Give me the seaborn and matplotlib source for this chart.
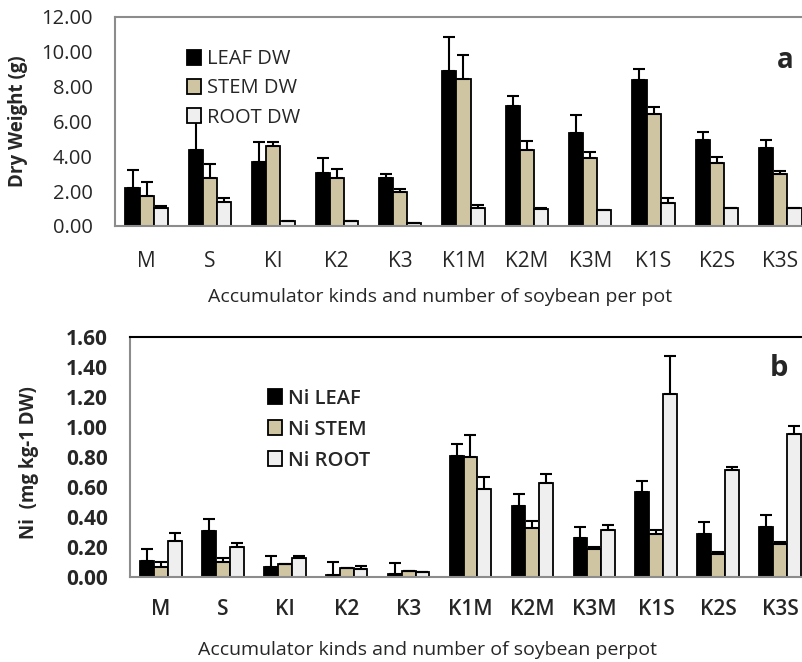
import matplotlib
matplotlib.use("Agg")
import matplotlib.pyplot as plt
from matplotlib.patches import Patch
import seaborn as sns
import pandas as pd
import numpy as np

# ---------------- data ----------------
categories = ["M", "S", "KI", "K2", "K3", "K1M", "K2M", "K3M", "K1S", "K2S", "K3S"]

# panel a: dry weight (g)
leaf_dw = [2.21, 4.35, 3.70, 3.06, 2.75, 8.90, 6.90, 5.35, 8.41, 4.93, 4.50]
leaf_dw_err = [1.03, 1.62, 1.10, 0.84, 0.23, 1.97, 0.57, 1.05, 0.62, 0.45, 0.41]
stem_dw = [1.74, 2.76, 4.60, 2.76, 1.95, 8.45, 4.36, 3.88, 6.45, 3.61, 2.98]
stem_dw_err = [0.81, 0.81, 0.21, 0.54, 0.16, 1.35, 0.54, 0.37, 0.37, 0.38, 0.20]
root_dw = [1.04, 1.40, 0.29, 0.27, 0.18, 1.05, 1.00, 0.92, 1.30, 1.05, 1.05]
root_dw_err = [0.13, 0.19, 0.0, 0.0, 0.0, 0.17, 0.02, 0.02, 0.29, 0.0, 0.0]

# panel b: Ni (mg kg-1 DW)
leaf_ni = [0.110, 0.310, 0.065, 0.016, 0.018, 0.810, 0.472, 0.258, 0.564, 0.288, 0.333]
leaf_ni_err = [0.078, 0.079, 0.077, 0.081, 0.075, 0.074, 0.079, 0.077, 0.079, 0.079, 0.079]
stem_ni = [0.067, 0.099, 0.085, 0.058, 0.038, 0.802, 0.328, 0.184, 0.288, 0.153, 0.220]
stem_ni_err = [0.030, 0.025, 0.0, 0.003, 0.0, 0.144, 0.045, 0.018, 0.027, 0.016, 0.016]
root_ni = [0.243, 0.200, 0.126, 0.056, 0.031, 0.589, 0.625, 0.312, 1.218, 0.712, 0.953]
root_ni_err = [0.050, 0.029, 0.016, 0.016, 0.0, 0.076, 0.063, 0.038, 0.256, 0.022, 0.054]

series_a = ["LEAF DW", "STEM DW", "ROOT DW"]
series_b = ["Ni LEAF", "Ni STEM", "Ni ROOT"]
colors = ["#000000", "#cfc5a3", "#efefef"]

# ---------------- style ----------------
sns.set_theme(style="white")
plt.rcParams["font.family"] = ["Open Sans", "DejaVu Sans"]

fig = plt.figure(figsize=(8.03, 6.62), dpi=100)
W, H = 803, 662


def make_axes(left, top, right, bottom):
    return fig.add_axes([left / W, 1 - bottom / H, (right - left) / W, (bottom - top) / H])


def draw_panel(ax, vals, errs, names, ylim, ystep, weight, spine_top_color):
    df = pd.DataFrame({
        "cat": np.repeat([categories], 3, axis=0).ravel(),
        "val": np.concatenate(vals),
        "part": np.repeat(names, len(categories)),
    })
    pal = dict(zip(names, colors))
    sns.barplot(data=df, x="cat", y="val", hue="part", hue_order=names,
                order=categories, palette=pal, saturation=1, width=0.67,
                edgecolor="black", linewidth=1.3, errorbar=None, legend=False, ax=ax)
    for cont, err in zip(ax.containers, errs):
        xs = [p.get_x() + p.get_width() / 2 for p in cont.patches]
        hs = [p.get_height() for p in cont.patches]
        ax.errorbar(xs, hs, yerr=[np.zeros(len(err)), err], fmt="none",
                    ecolor="black", elinewidth=1.5, capsize=4.5, capthick=1.5, zorder=5)
    ax.set_xlim(-0.5, len(categories) - 0.5)
    ax.set_ylim(*ylim)
    ax.set_yticks(np.arange(ylim[0], ylim[1] + ystep / 2, ystep))
    ax.yaxis.set_major_formatter(matplotlib.ticker.FormatStrFormatter("%.2f"))
    ax.set_xticks(np.arange(-0.5, len(categories), 1.0), minor=True)
    ax.tick_params(axis="x", which="major", length=0)
    ax.tick_params(axis="x", which="minor", length=6, width=1, color="#8c8c8c", direction="out")
    ax.tick_params(axis="y", which="major", length=4, width=1, color="#8c8c8c", direction="out")
    ax.set_xlabel("")
    ax.set_ylabel("")
    for s in ["left", "bottom"]:
        ax.spines[s].set_color("#8c8c8c")
        ax.spines[s].set_linewidth(1.5)
    ax.spines["top"].set_color(spine_top_color)
    ax.spines["top"].set_linewidth(1.5)
    ax.spines["right"].set_visible(False)
    ax.set_facecolor("white")
    for lab in ax.get_xticklabels() + ax.get_yticklabels():
        lab.set_fontweight(weight)
    handles = [Patch(facecolor=c, edgecolor="black", linewidth=1.3, label=n)
               for c, n in zip(colors, names)]
    return handles


# ---------------- panel a ----------------
ax1 = make_axes(115, 17, 812, 226)
h1 = draw_panel(ax1, [leaf_dw, stem_dw, root_dw], [leaf_dw_err, stem_dw_err, root_dw_err],
                series_a, (0, 12), 2, "normal", "#8c8c8c")
ax1.tick_params(axis="x", which="major", labelsize=15, pad=18)
ax1.tick_params(axis="y", which="major", labelsize=14.5, pad=12)
ax1.legend(handles=h1, loc="upper left", bbox_to_anchor=(0.103, 0.845), frameon=False,
           fontsize=14.5, handlelength=0.7, handleheight=0.8, handletextpad=0.3,
           labelspacing=0.45, borderpad=0, borderaxespad=0)
fig.text(785 / W, 1 - 60 / H, "a", fontsize=20, fontweight="bold", ha="center", va="center")
fig.text(18 / W, 1 - 121 / H, "Dry Weight (g)", rotation=90, fontsize=13.5,
         fontweight="bold", ha="center", va="center")
fig.text(440 / W, 1 - 297 / H, "Accumulator kinds and number of soybean per pot",
         fontsize=14, ha="center", va="center")

# ---------------- panel b ----------------
ax2 = make_axes(130, 337, 811, 577)
h2 = draw_panel(ax2, [leaf_ni, stem_ni, root_ni], [leaf_ni_err, stem_ni_err, root_ni_err],
                series_b, (0, 1.6), 0.2, "semibold", "black")
for lab in ax2.get_yticklabels():
    lab.set_fontweight("bold")
ax2.tick_params(axis="x", which="major", labelsize=15, pad=16)
ax2.tick_params(axis="y", which="major", labelsize=15, pad=12)
ax2.legend(handles=h2, loc="upper left", bbox_to_anchor=(0.203, 0.785), frameon=False,
           prop={"size": 14.5, "weight": "semibold"}, handlelength=0.7, handleheight=0.8,
           handletextpad=0.3, labelspacing=0.55, borderpad=0, borderaxespad=0)
fig.text(779 / W, 1 - 369 / H, "b", fontsize=21, fontweight="bold", ha="center", va="center")
fig.text(29 / W, 1 - 463 / H, "Ni  (mg kg-1 DW)", rotation=90, fontsize=13.5,
         fontweight="bold", ha="center", va="center")
fig.text(428 / W, 1 - 650 / H, "Accumulator kinds and number of soybean perpot",
         fontsize=14, ha="center", va="center")

fig.savefig("out.png", dpi=100, facecolor="white")
